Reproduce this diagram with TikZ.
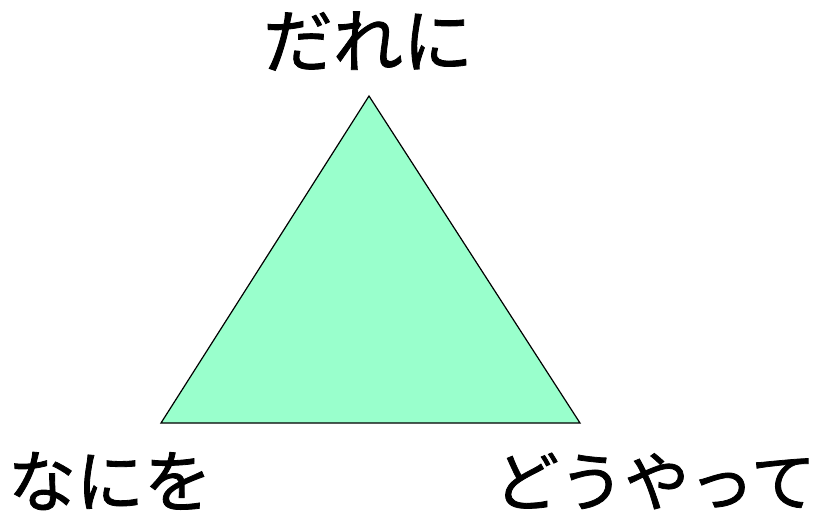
\documentclass[tikz,border=0pt]{standalone}
\usepackage{fontspec}
\newfontfamily\jp[FakeBold=1.2]{Noto Sans CJK JP}
\definecolor{trifill}{HTML}{99FFCC}
\begin{document}
\begin{tikzpicture}[x=1pt,y=-1pt,
  lbl/.style={font=\jp\fontsize{68}{68}\selectfont, inner sep=0pt, anchor=center}]
\useasboundingbox (0,0) rectangle (815,517);
\coordinate (top) at (369,96);
\coordinate (bl) at (161,423);
\coordinate (br) at (580,423);
\filldraw[fill=trifill, draw=black, line width=1.2pt, line join=miter] (top) -- (bl) -- (br) -- cycle;
\node[lbl, font=\jp\fontsize{70}{70}\selectfont] (who) at (368,41) {だれに};
\node[lbl] (what) at (110,481) {なにを};
\node[lbl, font=\jp\fontsize{65}{65}\selectfont] (how) at (655,481) {どうやって};
\end{tikzpicture}
\end{document}
